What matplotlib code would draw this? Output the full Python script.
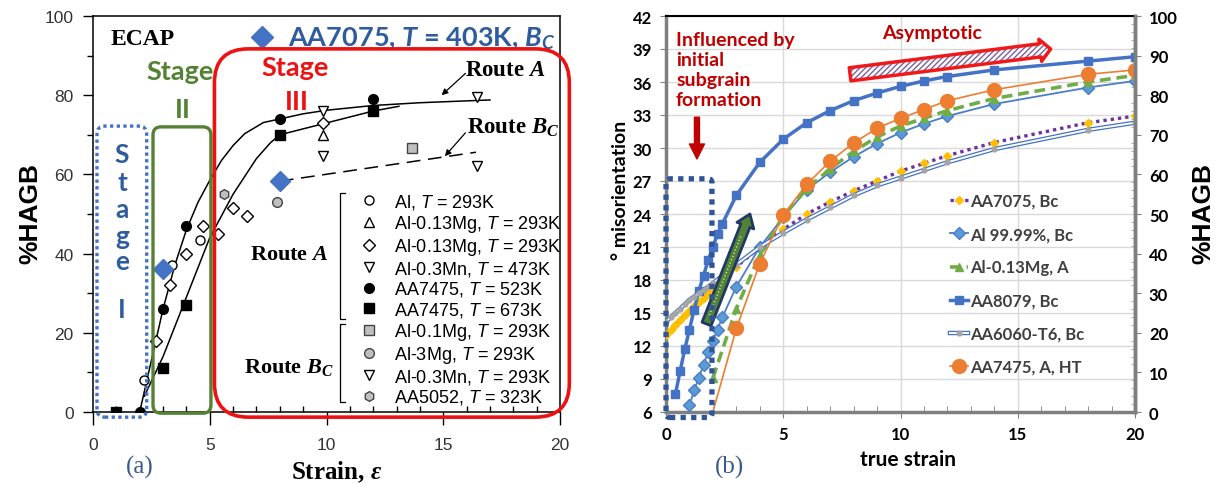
import numpy as np
import matplotlib
matplotlib.use('Agg')
import matplotlib.pyplot as plt
from matplotlib.patches import FancyBboxPatch, FancyArrowPatch
from matplotlib.transforms import IdentityTransform
from matplotlib.ticker import MultipleLocator

plt.rcParams['mathtext.fontset'] = 'custom'
plt.rcParams['mathtext.it'] = 'Liberation Serif:italic:bold'
plt.rcParams['mathtext.rm'] = 'Liberation Serif:bold'
plt.rcParams['mathtext.sf'] = 'Liberation Sans:italic'
plt.rcParams['mathtext.cal'] = 'Lato:italic:bold'

# ---------------- (a) ECAP literature data: strain vs %HAGB ----------------
al_293_x = [2.2, 3.4, 4.6]
al_293_y = [8, 37, 43.5]
mg013_tri_x = [9.85]
mg013_tri_y = [70]
mg013_dia_x = [2.7, 3.3, 4.0, 4.7, 5.35, 6.0, 6.6, 9.85]
mg013_dia_y = [18, 32, 40, 47, 45, 51.5, 49.5, 73]
mn03_473_x = [9.85, 16.45]
mn03_473_y = [76, 79.5]
aa7475_523_x = [1.0, 2.0, 3.0, 4.0, 8.0, 12.0]
aa7475_523_y = [0, 0, 26, 47, 74, 79]
aa7475_673_x = [1.0, 3.0, 4.0, 8.0, 12.0]
aa7475_673_y = [0, 11, 27, 70, 76]
mg01_bc_x = [13.67]
mg01_bc_y = [66.7]
mg3_bc_x = [7.9]
mg3_bc_y = [53]
mn03_293_x = [9.85, 16.45]
mn03_293_y = [64.6, 62]
aa5052_x = [5.6]
aa5052_y = [55]
aa7075_x = [3.0, 8.0]
aa7075_y = [36, 58.3]

# fitted trend lines
fitA_up_x = [2.0, 2.5, 3.0, 3.5, 4.0, 4.5, 5.0, 5.5, 6.0, 6.5, 7.3, 8.0, 9.0, 10.0, 12.0, 14.0, 17.0]
fitA_up_y = [0, 13, 26, 37, 46, 53, 58.5, 63.5, 67.3, 70.3, 73.1, 74, 75.3, 76.2, 77.4, 78.1, 78.8]
fitA_lo_x = [2.2, 3.0, 4.0, 5.0, 6.0, 7.0, 7.6, 8.0, 9.0, 10.0, 11.0, 12.0, 13.1]
fitA_lo_y = [4, 14, 29, 44, 55, 64, 68, 70, 71.5, 73, 74.5, 76, 77.2]
fitBc_x = [8.0, 16.4]
fitBc_y = [58.3, 65.6]

# ---------------- (b) true strain vs misorientation ----------------
aa7075b_x = [0.0, 0.2, 0.4, 0.6, 0.8, 1.0, 1.2, 1.4, 1.6, 1.8, 2.0, 3, 4, 5, 6, 7, 8, 9, 10, 11, 12, 14, 18, 20]
aa7075b_y = [13.0, 13.45, 13.9, 14.35, 14.8, 15.2, 15.6, 16.0, 16.4, 16.8, 17.2, 19.2, 21.0, 22.6,
             24.0, 25.1, 26.1, 27.0, 27.9, 28.6, 29.3, 30.5, 32.3, 32.9]
al9999_x = [1.0, 1.2, 1.4, 1.6, 1.8, 2.0, 2.2, 2.4, 3, 4, 5, 6, 7, 8, 9, 10, 11, 12, 14, 18, 20]
al9999_y = [6.6, 8.0, 9.1, 10.3, 11.5, 12.5, 13.5, 14.6, 17.4, 21.0, 23.7, 26.2, 27.8, 29.2,
            30.4, 31.4, 32.2, 32.9, 34.0, 35.5, 36.1]
mg013b_x = [2, 3, 4, 5, 6, 7, 8, 9, 10, 11, 12, 14, 18, 20]
mg013b_y = [9.1, 15.4, 20.3, 23.8, 26.3, 28.1, 29.7, 31.0, 32.0, 32.7, 33.4, 34.5, 36.0, 36.6]
aa8079_x = [0.4, 0.6, 0.8, 1.0, 1.2, 1.4, 1.6, 1.8, 2.0, 2.2, 2.4, 3, 4, 5, 6, 7, 8, 9, 10, 11, 12, 14, 18, 20]
aa8079_y = [7.6, 9.7, 11.7, 13.5, 15.3, 17.0, 18.4, 19.8, 21.0, 22.2, 23.1, 25.7, 28.7, 30.8,
            32.3, 33.4, 34.3, 35.0, 35.6, 36.1, 36.5, 37.1, 37.9, 38.3]
aa6060_x = [0.0, 0.2, 0.4, 0.6, 0.8, 1.0, 1.2, 1.4, 1.6, 1.8, 2.0, 3, 4, 5, 6, 7, 8, 9, 10, 11, 12, 14, 18, 20]
aa6060_y = [14.2, 14.6, 15.0, 15.4, 15.8, 16.2, 16.5, 16.8, 17.1, 17.4, 17.7, 19.4, 21.0, 22.3,
            23.5, 24.6, 25.7, 26.6, 27.3, 28.0, 28.7, 29.9, 31.65, 32.3]
aa7475b_x = [2, 3, 4, 5, 6, 7, 8, 9, 10, 11, 12, 14, 18, 20]
aa7475b_y = [6.0, 13.6, 19.5, 23.9, 26.7, 28.8, 30.45, 31.8, 32.7, 33.5, 34.3, 35.3, 36.7, 37.1]

BLUE_TXT = '#2E5C9E'
GREEN = '#548235'
RED = '#EE1111'
DRED = '#C00000'

fig = plt.figure(figsize=(12.16, 4.85), dpi=100)
W, H = 1216, 485
axa = fig.add_axes([93 / W, 1 - 413 / H, (560 - 93) / W, (413 - 17) / H])
axb = fig.add_axes([666 / W, 1 - 413 / H, (1135 - 666) / W, (413 - 17) / H])


def round_box(ax, x0, y0, x1, y1, r, **kw):
    p0 = ax.transData.transform((x0, y0))
    p1 = ax.transData.transform((x1, y1))
    box = FancyBboxPatch(p0, p1[0] - p0[0], p1[1] - p0[1],
                         boxstyle=f'round,pad=0,rounding_size={r}',
                         transform=IdentityTransform(), fill=False, clip_on=False, **kw)
    fig.add_artist(box)


# ======================= panel (a) =======================
axa.set_xlim(0, 20)
axa.set_ylim(0, 100)
axa.xaxis.set_major_locator(MultipleLocator(5))
axa.xaxis.set_minor_locator(MultipleLocator(1))
axa.yaxis.set_major_locator(MultipleLocator(20))
axa.yaxis.set_minor_locator(MultipleLocator(10))
axa.tick_params(which='major', length=7, width=1, labelsize=12.5, labelcolor='#333333', pad=7)
axa.tick_params(axis='x', which='major', length=9, pad=9)
axa.tick_params(which='minor', length=4, width=1)
axa.tick_params(axis='x', which='minor', direction='in')
for lab in axa.get_xticklabels() + axa.get_yticklabels():
    lab.set_family('Liberation Sans')
for s in axa.spines.values():
    s.set_linewidth(1.1)

axa.plot(fitA_up_x, fitA_up_y, color='black', lw=1.1, zorder=2)
axa.plot(fitA_lo_x, fitA_lo_y, color='black', lw=1.1, zorder=2)
axa.plot(fitBc_x, fitBc_y, color='black', lw=1.1, ls=(0, (9, 5)), zorder=2)

ms = 6.5
h1, = axa.plot(al_293_x, al_293_y, 'o', mfc='white', mec='black', ms=ms, label='Al, $\\mathsf{T}$ = 293K', zorder=3)
h2, = axa.plot(mg013_tri_x, mg013_tri_y, '^', mfc='white', mec='black', ms=ms, label='Al-0.13Mg, $\\mathsf{T}$ = 293K', zorder=3)
h3, = axa.plot(mg013_dia_x, mg013_dia_y, 'D', mfc='white', mec='black', ms=ms - 0.5, label='Al-0.13Mg, $\\mathsf{T}$ = 293K', zorder=3)
h4, = axa.plot(mn03_473_x, mn03_473_y, 'v', mfc='white', mec='black', ms=ms, label='Al-0.3Mn, $\\mathsf{T}$ = 473K', zorder=3)
h5, = axa.plot(aa7475_523_x, aa7475_523_y, 'o', color='black', ms=ms + 0.5, label='AA7475, $\\mathsf{T}$ = 523K', zorder=3)
h6, = axa.plot(aa7475_673_x, aa7475_673_y, 's', color='black', ms=ms, label='AA7475, $\\mathsf{T}$ = 673K', zorder=3)
h7, = axa.plot(mg01_bc_x, mg01_bc_y, 's', mfc='#BFBFBF', mec='#444444', ms=ms, label='Al-0.1Mg, $\\mathsf{T}$ = 293K', zorder=3)
h8, = axa.plot(mg3_bc_x, mg3_bc_y, 'o', mfc='#BFBFBF', mec='#444444', ms=ms + 0.5, label='Al-3Mg, $\\mathsf{T}$ = 293K', zorder=3)
h9, = axa.plot(mn03_293_x, mn03_293_y, 'v', mfc='white', mec='black', ms=ms, label='Al-0.3Mn, $\\mathsf{T}$ = 293K', zorder=3)
h10, = axa.plot(aa5052_x, aa5052_y, 'h', mfc='#BFBFBF', mec='#444444', ms=ms + 0.5, label='AA5052, $\\mathsf{T}$ = 323K', zorder=3)
axa.plot(aa7075_x, aa7075_y, 'D', color='#4472C4', ms=10, zorder=4)

axa.legend(handles=[h1, h2, h3, h4, h5, h6, h7, h8, h9, h10], loc='upper left',
           bbox_to_anchor=(0.571, 0.555), frameon=False, borderpad=0, borderaxespad=0,
           handlelength=1.0, handletextpad=0.9, labelspacing=0.1,
           prop={'family': 'Liberation Sans', 'size': 13})

# bracket groups of the legend
axa.plot([10.78, 10.58, 10.58, 10.78], [55.3, 55.3, 23.6, 23.6], color='black', lw=0.9, zorder=3)
axa.plot([10.78, 10.58, 10.58, 10.78], [22.3, 22.3, 2.6, 2.6], color='black', lw=0.9, zorder=3)
axa.text(8.4, 40.0, 'Route $A$', ha='center', va='center', fontsize=16, family='Liberation Serif', weight='bold')
axa.text(8.4, 11.4, 'Route $B_C$', ha='center', va='center', fontsize=16, family='Liberation Serif', weight='bold')

# route annotations
axa.annotate('', xy=(14.93, 80.0), xytext=(15.95, 85.5),
             arrowprops=dict(arrowstyle='-|>', color='black', lw=0.9, mutation_scale=9, shrinkA=0, shrinkB=0))
axa.text(15.95, 86.5, 'Route $A$', ha='left', va='center', fontsize=16.5, family='Liberation Serif', weight='bold')
axa.annotate('', xy=(15.07, 64.6), xytext=(15.95, 70.5),
             arrowprops=dict(arrowstyle='-|>', color='black', lw=0.9, mutation_scale=9, shrinkA=0, shrinkB=0))
axa.text(16.0, 72.0, 'Route $B_C$', ha='left', va='center', fontsize=16.5, family='Liberation Serif', weight='bold')

axa.text(0.77, 94.2, 'ECAP', ha='left', va='center', fontsize=17, family='Liberation Serif', weight='bold')
axa.plot([0.362], [0.947], 'D', color='#4472C4', ms=11, transform=axa.transAxes, clip_on=False)
axa.text(0.418, 0.945, 'AA7075, $\\mathcal{T}$ = 403K, $\\mathcal{B}_\\mathcal{C}$', transform=axa.transAxes,
         ha='left', va='center', fontsize=19.5, family='Lato', weight='bold', color=BLUE_TXT)

# stage boxes
round_box(axa, 0.17, -1.3, 2.3, 72.2, 8, ec='#4472C4', lw=2.4, ls=(0, (1, 1)))
round_box(axa, 2.57, -0.3, 5.05, 72.0, 8, ec=GREEN, lw=2.4)
round_box(axa, 5.2, -1.3, 20.4, 91.7, 34, ec=RED, lw=2.6)

for ch, yy in zip(['S', 't', 'a', 'g', 'e', 'I'], [65.2, 58.1, 51.3, 44.4, 38.1, 26.0]):
    axa.text(1.24, yy, ch, ha='center', va='center', fontsize=19, family='Lato', weight='bold', color=BLUE_TXT)
axa.text(3.73, 86.1, 'Stage', ha='center', va='center', fontsize=19.5, family='Lato', weight='bold', color=GREEN)
axa.text(3.85, 76.5, 'II', ha='center', va='center', fontsize=19.5, family='Lato', weight='bold', color=GREEN)
axa.text(8.65, 87.1, 'Stage', ha='center', va='center', fontsize=19.5, family='Lato', weight='bold', color=RED)
axa.text(8.74, 78.5, 'III', ha='center', va='center', fontsize=19.5, family='Lato', weight='bold', color=RED)

axa.set_xlabel('Strain, $\\varepsilon$', fontsize=18, family='Liberation Serif', weight='bold')
axa.xaxis.set_label_coords(0.522, -0.149)
axa.xaxis.label.set_va('center')
axa.set_ylabel('%HAGB', fontsize=19, family='Liberation Sans', weight='bold')
axa.yaxis.set_label_coords(-0.135, 0.505)
axa.yaxis.label.set_va('center')

# ======================= panel (b) =======================
axb.set_xlim(0, 20)
axb.set_ylim(6, 42)
axb.xaxis.set_major_locator(MultipleLocator(5))
axb.xaxis.set_minor_locator(MultipleLocator(1))
axb.yaxis.set_major_locator(MultipleLocator(3))
axb.grid(True, which='major', color='#D9D9D9', lw=1)
axb.set_axisbelow(True)
axb.tick_params(which='major', length=4, color='#808080', labelsize=12, pad=6)
axb.tick_params(axis='x', which='minor', direction='in', length=4, color='#808080')
for lab in axb.get_xticklabels() + axb.get_yticklabels():
    lab.set_family('Lato')
    lab.set_weight('bold')
for side in ['left', 'bottom', 'right']:
    axb.spines[side].set_color('#7F7F7F')
    axb.spines[side].set_linewidth(2.5)
axb.spines['top'].set_color('black')
axb.spines['top'].set_linewidth(1.5)

l1, = axb.plot(aa7075b_x, aa7075b_y, color='#7030A0', lw=2.4, ls=(0, (1, 1.2)), marker='D', ms=4,
               mfc='#FFC000', mec='#FFC000', label='AA7075, Bc', zorder=3)
l2, = axb.plot(al9999_x, al9999_y, color='#4A7EC6', lw=1.3, marker='D', ms=6,
               mfc='#5B9BD5', mec='#4A7EC6', label='Al 99.99%, Bc', zorder=3)
l3, = axb.plot(mg013b_x, mg013b_y, color='#70AD47', lw=2.6, ls=(0, (3, 1.6)), marker='^', ms=6,
               label='Al-0.13Mg, A', zorder=3)
l4, = axb.plot(aa8079_x, aa8079_y, color='#4472C4', lw=2.5, marker='s', ms=5.5, label='AA8079, Bc', zorder=3)
l5a, = axb.plot(aa6060_x, aa6060_y, color='#4472C4', lw=3.2, zorder=3)
l5b, = axb.plot(aa6060_x, aa6060_y, color='white', lw=1.4, zorder=3)
l5c, = axb.plot(aa6060_x, aa6060_y, ls='none', marker='o', ms=3.5, color='#A5A5A5', zorder=3)
l6, = axb.plot(aa7475b_x, aa7475b_y, color='#ED7D31', lw=1.2, marker='o', ms=10, markevery=slice(1, None),
               label='AA7475, A, HT', zorder=3)

axb.legend(handles=[l1, l2, l3, l4, (l5a, l5b, l5c), l6],
           labels=['AA7075, Bc', 'Al 99.99%, Bc', 'Al-0.13Mg, A', 'AA8079, Bc', 'AA6060-T6, Bc', 'AA7475, A, HT'],
           loc='upper left', bbox_to_anchor=(0.605, 0.553), frameon=False, borderpad=0, borderaxespad=0,
           handlelength=1.1, handletextpad=0.1, labelspacing=1.03, labelcolor='#404040',
           prop={'family': 'Lato', 'weight': 'bold', 'size': 12})

axbr = axb.twinx()
axbr.set_ylim(0, 100)
axbr.yaxis.set_major_locator(MultipleLocator(10))
axbr.yaxis.set_minor_locator(MultipleLocator(2))
axbr.tick_params(which='major', length=4, color='#808080', labelsize=12, pad=6)
axbr.tick_params(which='minor', direction='in', length=3, color='#A0A0A0')
for lab in axbr.get_yticklabels():
    lab.set_family('Lato')
    lab.set_weight('bold')
for side in ['left', 'bottom', 'top']:
    axbr.spines[side].set_visible(False)
axbr.spines['right'].set_color('#7F7F7F')
axbr.spines['right'].set_linewidth(2.5)
axbr.set_ylabel('%HAGB', fontsize=19, family='Liberation Sans', weight='bold')
axbr.yaxis.set_label_coords(1.145, 0.505)
axbr.yaxis.label.set_va('center')

axb.set_xlabel('true strain', fontsize=15, family='Lato', weight='bold')
axb.xaxis.set_label_coords(0.516, -0.119)
axb.xaxis.label.set_va('center')
axb.set_ylabel('° misorientation', fontsize=14, family='Lato', weight='bold')
axb.yaxis.set_label_coords(-0.098, 0.563)
axb.yaxis.label.set_va('center')

# annotations of panel (b)
round_box(axb, 0.0, 5.5, 1.96, 27.2, 4, ec='#2F5597', lw=3.8, ls=(0, (1, 1)))
axb.text(0.43, 40.6, 'Influenced by\ninitial\nsubgrain\nformation', ha='left', va='top', fontsize=14,
         family='Lato', weight='bold', color=DRED, linespacing=1.2)
axb.add_patch(FancyArrowPatch((1.32, 32.8), (1.32, 29.0), shrinkA=0, shrinkB=0, color=DRED,
                              arrowstyle='simple,head_width=0.9,head_length=0.9,tail_width=0.3',
                              mutation_scale=12, zorder=5))
axb.text(9.2, 40.5, 'Asymptotic', ha='left', va='center', fontsize=14, family='Lato', weight='bold', color=DRED)
arr_style = 'simple,head_width=1.6,head_length=0.75,tail_width=0.95'
axb.add_patch(FancyArrowPatch((7.85, 36.7), (16.4, 39.0), shrinkA=0, shrinkB=0, arrowstyle=arr_style,
                              mutation_scale=10, fc='white', ec='#7F5FA0', hatch='//////', lw=0, zorder=5))
axb.add_patch(FancyArrowPatch((7.85, 36.7), (16.4, 39.0), shrinkA=0, shrinkB=0, arrowstyle=arr_style,
                              mutation_scale=10, fill=False, ec='#F01818', lw=2.5, zorder=6))
axb.add_patch(FancyArrowPatch((1.73, 14.0), (3.58, 24.0), shrinkA=0, shrinkB=0,
                              arrowstyle='simple,head_width=1.3,head_length=0.9,tail_width=0.7',
                              mutation_scale=10, fc=GREEN, ec='#1F3864', lw=2, zorder=5))
axb.plot([1.85, 3.2], [14.8, 22.0], color='#C5E0B4', lw=1, ls=(0, (1, 1.5)), zorder=6)

fig.text(140 / W, 1 - 467 / H, '(a)', ha='center', va='center', fontsize=18, family='Liberation Serif', color='#3B5A8C')
fig.text(730 / W, 1 - 467 / H, '(b)', ha='center', va='center', fontsize=18, family='Liberation Serif', color='#3B5A8C')

fig.savefig('out.png', dpi=100)
